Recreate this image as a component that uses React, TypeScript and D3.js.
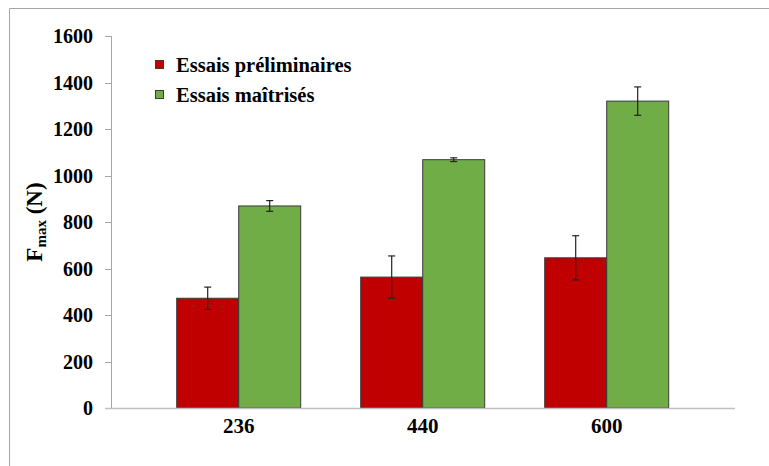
import React from "react";
import * as d3 from "d3";

const categories = ["236", "440", "600"];
const seriesNames = ["Essais préliminaires", "Essais maîtrisés"];
const prelimValues = [472, 563, 646];
const prelimErrors = [48, 91, 95];
const maitriseValues = [869, 1068, 1320];
const maitriseErrors = [23, 8, 61];
const yTicks = [0, 200, 400, 600, 800, 1000, 1200, 1400, 1600];
const colors = ["#C00000", "#70AD47"];

const W = 769;
const H = 466;
const FONT = "'Liberation Serif', 'Times New Roman', serif";

export default function App() {
  const y = d3.scaleLinear().domain([0, 1600]).range([408, 36]);
  const x0 = d3.scaleBand<string>().domain(categories).range([146.7, 698.7]).paddingInner(0).paddingOuter(0);
  const groupW = 124;
  const x1 = d3.scaleBand<number>().domain([0, 1]).range([0, groupW]);
  const series = [
    { vals: prelimValues, errs: prelimErrors },
    { vals: maitriseValues, errs: maitriseErrors },
  ];
  const axisX = 111;
  const axisEnd = 735;
  return (
    <svg width={W} height={H} style={{ display: "block", position: "absolute", left: 0, top: 0 }}>
      <rect x={0} y={0} width={W} height={H} fill="#fff" />
      <line x1={9.5} y1={8.5} x2={W} y2={8.5} stroke="#a6a6a6" strokeWidth={1} />
      <line x1={9.5} y1={8.5} x2={9.5} y2={H} stroke="#a6a6a6" strokeWidth={1} />
      {/* y axis */}
      <line x1={axisX + 0.5} y1={y(1600)} x2={axisX + 0.5} y2={y(0)} stroke="#a6a6a6" />
      {yTicks.map((t) => (
        <g key={t}>
          <line x1={axisX - 6} x2={axisX} y1={Math.round(y(t)) + 0.5} y2={Math.round(y(t)) + 0.5} stroke="#a6a6a6" />
          <text x={93} y={y(t)} dy="0.35em" textAnchor="end" fontFamily={FONT} fontWeight="bold" fontSize={20} fill="#000">
            {t}
          </text>
        </g>
      ))}
      {/* bars */}
      {categories.map((c, i) => {
        const gx = (x0(c) as number) + (x0.bandwidth() - groupW) / 2;
        return (
          <g key={c}>
            {series.map((s, k) => {
              const bx = gx + (x1(k) as number);
              const bw = x1.bandwidth();
              const v = s.vals[i];
              const e = s.errs[i];
              const cx = bx + bw / 2;
              return (
                <g key={k}>
                  <rect x={bx} y={y(v)} width={bw} height={y(0) - y(v)} fill={colors[k]} stroke="#3a3a3a" strokeWidth={1} />
                  <line x1={cx} x2={cx} y1={y(v + e)} y2={y(v - e)} stroke="#222" strokeWidth={1.2} />
                  <line x1={cx - 3.5} x2={cx + 3.5} y1={y(v + e)} y2={y(v + e)} stroke="#222" strokeWidth={1.2} />
                  <line x1={cx - 3.5} x2={cx + 3.5} y1={y(v - e)} y2={y(v - e)} stroke="#222" strokeWidth={1.2} />
                </g>
              );
            })}
            <text x={(x0(c) as number) + x0.bandwidth() / 2} y={433} textAnchor="middle" fontFamily={FONT} fontWeight="bold" fontSize={21} fill="#000">
              {c}
            </text>
          </g>
        );
      })}
      {/* x axis */}
      <line x1={axisX - 6} x2={axisEnd} y1={408.5} y2={408.5} stroke="#c0c0c0" strokeWidth={1.5} />
      {/* y label */}
      <text transform="translate(42,222) rotate(-90)" textAnchor="middle" fontFamily={FONT} fontWeight="bold" fontSize={23} fill="#000">
        F<tspan fontSize={15} dy={4}>max</tspan>
        <tspan dy={-4}> (N)</tspan>
      </text>
      {/* legend */}
      {seriesNames.map((n, k) => (
        <g key={n}>
          <rect x={155.5} y={60.5 + k * 30} width={8} height={8} fill={colors[k]} stroke="#3a3a3a" />
          <text x={176} y={72 + k * 30} fontFamily={FONT} fontWeight="bold" fontSize={20.5} fill="#000">
            {n}
          </text>
        </g>
      ))}
    </svg>
  );
}
